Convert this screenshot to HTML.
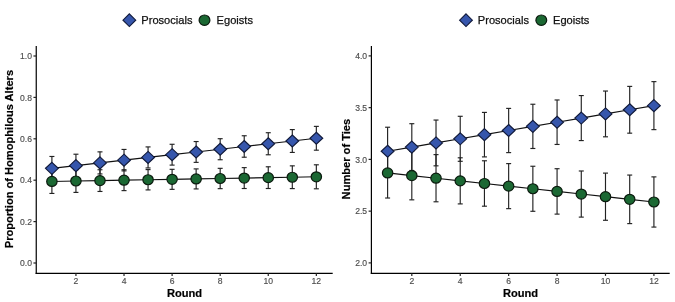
<!DOCTYPE html>
<html><head><meta charset="utf-8"><style>
html,body{margin:0;padding:0;background:#fff;}
body{width:675px;height:302px;overflow:hidden;}
svg{display:block;will-change:transform;}
text{font-family:"Liberation Sans", sans-serif;}
.eb{stroke:#222;stroke-width:1.15;fill:none;}
.ln{stroke:#111;stroke-width:1.15;fill:none;}
.dm{fill:#3656ac;stroke:#111a3a;stroke-width:1.15;}
.ci{fill:#1b6833;stroke:#0b1a0e;stroke-width:1.2;}
.ax{stroke:#000;stroke-width:1.2;}
.tk{stroke:#222;stroke-width:1.2;}
.tl{font-size:8.6px;fill:#4d4d4d;stroke:#4d4d4d;stroke-width:0.15px;}
.tt{font-size:11.1px;font-weight:bold;fill:#000;stroke:#000;stroke-width:0.2px;}
.lg{font-size:11.1px;fill:#111;stroke:#111;stroke-width:0.25px;}
</style></head><body>
<svg width="675" height="302" viewBox="0 0 675 302">
<rect width="675" height="302" fill="#fff"/>
<path class="dm" d="M129.35 13.85L135.70 20.20L129.35 26.55L123.00 20.20Z"/>
<ellipse class="ci" cx="204.50" cy="20.20" rx="5.4" ry="5.2"/>
<text class="lg" x="141.30" y="23.9">Prosocials</text>
<text class="lg" x="216.60" y="23.9">Egoists</text>
<path class="dm" d="M466.00 13.85L472.35 20.20L466.00 26.55L459.65 20.20Z"/>
<ellipse class="ci" cx="541.30" cy="20.20" rx="5.4" ry="5.2"/>
<text class="lg" x="477.80" y="23.9">Prosocials</text>
<text class="lg" x="553.00" y="23.9">Egoists</text>
<line x1="51.90" y1="156.47" x2="51.90" y2="180.27" class="eb"/>
<line x1="49.40" y1="156.47" x2="54.40" y2="156.47" class="eb"/>
<line x1="49.40" y1="180.27" x2="54.40" y2="180.27" class="eb"/>
<line x1="75.94" y1="154.21" x2="75.94" y2="177.06" class="eb"/>
<line x1="73.44" y1="154.21" x2="78.44" y2="154.21" class="eb"/>
<line x1="73.44" y1="177.06" x2="78.44" y2="177.06" class="eb"/>
<line x1="99.98" y1="151.87" x2="99.98" y2="173.93" class="eb"/>
<line x1="97.48" y1="151.87" x2="102.48" y2="151.87" class="eb"/>
<line x1="97.48" y1="173.93" x2="102.48" y2="173.93" class="eb"/>
<line x1="124.02" y1="149.44" x2="124.02" y2="170.89" class="eb"/>
<line x1="121.52" y1="149.44" x2="126.52" y2="149.44" class="eb"/>
<line x1="121.52" y1="170.89" x2="126.52" y2="170.89" class="eb"/>
<line x1="148.06" y1="146.91" x2="148.06" y2="167.95" class="eb"/>
<line x1="145.56" y1="146.91" x2="150.56" y2="146.91" class="eb"/>
<line x1="145.56" y1="167.95" x2="150.56" y2="167.95" class="eb"/>
<line x1="172.10" y1="144.28" x2="172.10" y2="165.11" class="eb"/>
<line x1="169.60" y1="144.28" x2="174.60" y2="144.28" class="eb"/>
<line x1="169.60" y1="165.11" x2="174.60" y2="165.11" class="eb"/>
<line x1="196.14" y1="141.54" x2="196.14" y2="162.37" class="eb"/>
<line x1="193.64" y1="141.54" x2="198.64" y2="141.54" class="eb"/>
<line x1="193.64" y1="162.37" x2="198.64" y2="162.37" class="eb"/>
<line x1="220.18" y1="138.70" x2="220.18" y2="159.74" class="eb"/>
<line x1="217.68" y1="138.70" x2="222.68" y2="138.70" class="eb"/>
<line x1="217.68" y1="159.74" x2="222.68" y2="159.74" class="eb"/>
<line x1="244.22" y1="135.76" x2="244.22" y2="157.21" class="eb"/>
<line x1="241.72" y1="135.76" x2="246.72" y2="135.76" class="eb"/>
<line x1="241.72" y1="157.21" x2="246.72" y2="157.21" class="eb"/>
<line x1="268.26" y1="132.72" x2="268.26" y2="154.78" class="eb"/>
<line x1="265.76" y1="132.72" x2="270.76" y2="132.72" class="eb"/>
<line x1="265.76" y1="154.78" x2="270.76" y2="154.78" class="eb"/>
<line x1="292.30" y1="129.59" x2="292.30" y2="152.44" class="eb"/>
<line x1="289.80" y1="129.59" x2="294.80" y2="129.59" class="eb"/>
<line x1="289.80" y1="152.44" x2="294.80" y2="152.44" class="eb"/>
<line x1="316.34" y1="126.38" x2="316.34" y2="150.18" class="eb"/>
<line x1="313.84" y1="126.38" x2="318.84" y2="126.38" class="eb"/>
<line x1="313.84" y1="150.18" x2="318.84" y2="150.18" class="eb"/>
<line x1="51.90" y1="169.45" x2="51.90" y2="193.45" class="eb"/>
<line x1="49.40" y1="169.45" x2="54.40" y2="169.45" class="eb"/>
<line x1="49.40" y1="193.45" x2="54.40" y2="193.45" class="eb"/>
<line x1="75.94" y1="169.65" x2="75.94" y2="192.40" class="eb"/>
<line x1="73.44" y1="169.65" x2="78.44" y2="169.65" class="eb"/>
<line x1="73.44" y1="192.40" x2="78.44" y2="192.40" class="eb"/>
<line x1="99.98" y1="169.75" x2="99.98" y2="191.46" class="eb"/>
<line x1="97.48" y1="169.75" x2="102.48" y2="169.75" class="eb"/>
<line x1="97.48" y1="191.46" x2="102.48" y2="191.46" class="eb"/>
<line x1="124.02" y1="169.74" x2="124.02" y2="190.62" class="eb"/>
<line x1="121.52" y1="169.74" x2="126.52" y2="169.74" class="eb"/>
<line x1="121.52" y1="190.62" x2="126.52" y2="190.62" class="eb"/>
<line x1="148.06" y1="169.60" x2="148.06" y2="189.92" class="eb"/>
<line x1="145.56" y1="169.60" x2="150.56" y2="169.60" class="eb"/>
<line x1="145.56" y1="189.92" x2="150.56" y2="189.92" class="eb"/>
<line x1="172.10" y1="169.32" x2="172.10" y2="189.35" class="eb"/>
<line x1="169.60" y1="169.32" x2="174.60" y2="169.32" class="eb"/>
<line x1="169.60" y1="189.35" x2="174.60" y2="189.35" class="eb"/>
<line x1="196.14" y1="168.90" x2="196.14" y2="188.93" class="eb"/>
<line x1="193.64" y1="168.90" x2="198.64" y2="168.90" class="eb"/>
<line x1="193.64" y1="188.93" x2="198.64" y2="188.93" class="eb"/>
<line x1="220.18" y1="168.33" x2="220.18" y2="188.65" class="eb"/>
<line x1="217.68" y1="168.33" x2="222.68" y2="168.33" class="eb"/>
<line x1="217.68" y1="188.65" x2="222.68" y2="188.65" class="eb"/>
<line x1="244.22" y1="167.63" x2="244.22" y2="188.51" class="eb"/>
<line x1="241.72" y1="167.63" x2="246.72" y2="167.63" class="eb"/>
<line x1="241.72" y1="188.51" x2="246.72" y2="188.51" class="eb"/>
<line x1="268.26" y1="166.79" x2="268.26" y2="188.50" class="eb"/>
<line x1="265.76" y1="166.79" x2="270.76" y2="166.79" class="eb"/>
<line x1="265.76" y1="188.50" x2="270.76" y2="188.50" class="eb"/>
<line x1="292.30" y1="165.85" x2="292.30" y2="188.60" class="eb"/>
<line x1="289.80" y1="165.85" x2="294.80" y2="165.85" class="eb"/>
<line x1="289.80" y1="188.60" x2="294.80" y2="188.60" class="eb"/>
<line x1="316.34" y1="164.80" x2="316.34" y2="188.80" class="eb"/>
<line x1="313.84" y1="164.80" x2="318.84" y2="164.80" class="eb"/>
<line x1="313.84" y1="188.80" x2="318.84" y2="188.80" class="eb"/>
<polyline class="ln" points="51.90,168.37 75.94,165.64 99.98,162.90 124.02,160.17 148.06,157.43 172.10,154.69 196.14,151.96 220.18,149.22 244.22,146.48 268.26,143.75 292.30,141.01 316.34,138.28"/>
<polyline class="ln" points="51.90,181.45 75.94,181.02 99.98,180.60 124.02,180.18 148.06,179.76 172.10,179.34 196.14,178.91 220.18,178.49 244.22,178.07 268.26,177.65 292.30,177.23 316.34,176.80"/>
<path class="dm" d="M51.90 162.37L58.30 168.37L51.90 174.37L45.50 168.37Z"/>
<path class="dm" d="M75.94 159.64L82.34 165.64L75.94 171.64L69.54 165.64Z"/>
<path class="dm" d="M99.98 156.90L106.38 162.90L99.98 168.90L93.58 162.90Z"/>
<path class="dm" d="M124.02 154.17L130.42 160.17L124.02 166.17L117.62 160.17Z"/>
<path class="dm" d="M148.06 151.43L154.46 157.43L148.06 163.43L141.66 157.43Z"/>
<path class="dm" d="M172.10 148.69L178.50 154.69L172.10 160.69L165.70 154.69Z"/>
<path class="dm" d="M196.14 145.96L202.54 151.96L196.14 157.96L189.74 151.96Z"/>
<path class="dm" d="M220.18 143.22L226.58 149.22L220.18 155.22L213.78 149.22Z"/>
<path class="dm" d="M244.22 140.48L250.62 146.48L244.22 152.48L237.82 146.48Z"/>
<path class="dm" d="M268.26 137.75L274.66 143.75L268.26 149.75L261.86 143.75Z"/>
<path class="dm" d="M292.30 135.01L298.70 141.01L292.30 147.01L285.90 141.01Z"/>
<path class="dm" d="M316.34 132.28L322.74 138.28L316.34 144.28L309.94 138.28Z"/>
<ellipse class="ci" cx="51.90" cy="181.45" rx="5.2" ry="5.0"/>
<ellipse class="ci" cx="75.94" cy="181.02" rx="5.2" ry="5.0"/>
<ellipse class="ci" cx="99.98" cy="180.60" rx="5.2" ry="5.0"/>
<ellipse class="ci" cx="124.02" cy="180.18" rx="5.2" ry="5.0"/>
<ellipse class="ci" cx="148.06" cy="179.76" rx="5.2" ry="5.0"/>
<ellipse class="ci" cx="172.10" cy="179.34" rx="5.2" ry="5.0"/>
<ellipse class="ci" cx="196.14" cy="178.91" rx="5.2" ry="5.0"/>
<ellipse class="ci" cx="220.18" cy="178.49" rx="5.2" ry="5.0"/>
<ellipse class="ci" cx="244.22" cy="178.07" rx="5.2" ry="5.0"/>
<ellipse class="ci" cx="268.26" cy="177.65" rx="5.2" ry="5.0"/>
<ellipse class="ci" cx="292.30" cy="177.23" rx="5.2" ry="5.0"/>
<ellipse class="ci" cx="316.34" cy="176.80" rx="5.2" ry="5.0"/>
<line class="ax" x1="36.25" y1="46.0" x2="36.25" y2="273.90000000000003"/>
<line class="ax" x1="35.65" y1="273.3" x2="332.7" y2="273.3"/>
<line class="tk" x1="33.45" y1="263.00" x2="36.25" y2="263.00"/>
<text class="tl" x="31.95" y="266.20" text-anchor="end">0.0</text>
<line class="tk" x1="33.45" y1="221.60" x2="36.25" y2="221.60"/>
<text class="tl" x="31.95" y="224.80" text-anchor="end">0.2</text>
<line class="tk" x1="33.45" y1="180.20" x2="36.25" y2="180.20"/>
<text class="tl" x="31.95" y="183.40" text-anchor="end">0.4</text>
<line class="tk" x1="33.45" y1="138.80" x2="36.25" y2="138.80"/>
<text class="tl" x="31.95" y="142.00" text-anchor="end">0.6</text>
<line class="tk" x1="33.45" y1="97.40" x2="36.25" y2="97.40"/>
<text class="tl" x="31.95" y="100.60" text-anchor="end">0.8</text>
<line class="tk" x1="33.45" y1="56.00" x2="36.25" y2="56.00"/>
<text class="tl" x="31.95" y="59.20" text-anchor="end">1.0</text>
<line class="tk" x1="75.94" y1="273.3" x2="75.94" y2="275.90000000000003"/>
<text class="tl" x="75.94" y="283.90" text-anchor="middle">2</text>
<line class="tk" x1="124.02" y1="273.3" x2="124.02" y2="275.90000000000003"/>
<text class="tl" x="124.02" y="283.90" text-anchor="middle">4</text>
<line class="tk" x1="172.10" y1="273.3" x2="172.10" y2="275.90000000000003"/>
<text class="tl" x="172.10" y="283.90" text-anchor="middle">6</text>
<line class="tk" x1="220.18" y1="273.3" x2="220.18" y2="275.90000000000003"/>
<text class="tl" x="220.18" y="283.90" text-anchor="middle">8</text>
<line class="tk" x1="268.26" y1="273.3" x2="268.26" y2="275.90000000000003"/>
<text class="tl" x="268.26" y="283.90" text-anchor="middle">10</text>
<line class="tk" x1="316.34" y1="273.3" x2="316.34" y2="275.90000000000003"/>
<text class="tl" x="316.34" y="283.90" text-anchor="middle">12</text>
<text class="tt" x="184.47" y="296.6" text-anchor="middle">Round</text>
<text class="tt" transform="translate(12.9,159.1) rotate(-90)" x="0" y="0" text-anchor="middle">Proportion of Homophilous Alters</text>
<line x1="387.60" y1="127.23" x2="387.60" y2="175.23" class="eb"/>
<line x1="385.10" y1="127.23" x2="390.10" y2="127.23" class="eb"/>
<line x1="385.10" y1="175.23" x2="390.10" y2="175.23" class="eb"/>
<line x1="411.81" y1="123.70" x2="411.81" y2="170.48" class="eb"/>
<line x1="409.31" y1="123.70" x2="414.31" y2="123.70" class="eb"/>
<line x1="409.31" y1="170.48" x2="414.31" y2="170.48" class="eb"/>
<line x1="436.02" y1="120.05" x2="436.02" y2="165.83" class="eb"/>
<line x1="433.52" y1="120.05" x2="438.52" y2="120.05" class="eb"/>
<line x1="433.52" y1="165.83" x2="438.52" y2="165.83" class="eb"/>
<line x1="460.23" y1="116.29" x2="460.23" y2="161.30" class="eb"/>
<line x1="457.73" y1="116.29" x2="462.73" y2="116.29" class="eb"/>
<line x1="457.73" y1="161.30" x2="462.73" y2="161.30" class="eb"/>
<line x1="484.44" y1="112.40" x2="484.44" y2="156.90" class="eb"/>
<line x1="481.94" y1="112.40" x2="486.94" y2="112.40" class="eb"/>
<line x1="481.94" y1="156.90" x2="486.94" y2="156.90" class="eb"/>
<line x1="508.65" y1="108.39" x2="508.65" y2="152.62" class="eb"/>
<line x1="506.15" y1="108.39" x2="511.15" y2="108.39" class="eb"/>
<line x1="506.15" y1="152.62" x2="511.15" y2="152.62" class="eb"/>
<line x1="532.86" y1="104.24" x2="532.86" y2="148.48" class="eb"/>
<line x1="530.36" y1="104.24" x2="535.36" y2="104.24" class="eb"/>
<line x1="530.36" y1="148.48" x2="535.36" y2="148.48" class="eb"/>
<line x1="557.07" y1="99.97" x2="557.07" y2="144.46" class="eb"/>
<line x1="554.57" y1="99.97" x2="559.57" y2="99.97" class="eb"/>
<line x1="554.57" y1="144.46" x2="559.57" y2="144.46" class="eb"/>
<line x1="581.28" y1="95.56" x2="581.28" y2="140.58" class="eb"/>
<line x1="578.78" y1="95.56" x2="583.78" y2="95.56" class="eb"/>
<line x1="578.78" y1="140.58" x2="583.78" y2="140.58" class="eb"/>
<line x1="605.49" y1="91.04" x2="605.49" y2="136.81" class="eb"/>
<line x1="602.99" y1="91.04" x2="607.99" y2="91.04" class="eb"/>
<line x1="602.99" y1="136.81" x2="607.99" y2="136.81" class="eb"/>
<line x1="629.70" y1="86.39" x2="629.70" y2="133.17" class="eb"/>
<line x1="627.20" y1="86.39" x2="632.20" y2="86.39" class="eb"/>
<line x1="627.20" y1="133.17" x2="632.20" y2="133.17" class="eb"/>
<line x1="653.91" y1="81.63" x2="653.91" y2="129.63" class="eb"/>
<line x1="651.41" y1="81.63" x2="656.41" y2="81.63" class="eb"/>
<line x1="651.41" y1="129.63" x2="656.41" y2="129.63" class="eb"/>
<line x1="387.60" y1="147.82" x2="387.60" y2="198.02" class="eb"/>
<line x1="385.10" y1="147.82" x2="390.10" y2="147.82" class="eb"/>
<line x1="385.10" y1="198.02" x2="390.10" y2="198.02" class="eb"/>
<line x1="411.81" y1="151.29" x2="411.81" y2="199.84" class="eb"/>
<line x1="409.31" y1="151.29" x2="414.31" y2="151.29" class="eb"/>
<line x1="409.31" y1="199.84" x2="414.31" y2="199.84" class="eb"/>
<line x1="436.02" y1="154.62" x2="436.02" y2="201.79" class="eb"/>
<line x1="433.52" y1="154.62" x2="438.52" y2="154.62" class="eb"/>
<line x1="433.52" y1="201.79" x2="438.52" y2="201.79" class="eb"/>
<line x1="460.23" y1="157.79" x2="460.23" y2="203.91" class="eb"/>
<line x1="457.73" y1="157.79" x2="462.73" y2="157.79" class="eb"/>
<line x1="457.73" y1="203.91" x2="462.73" y2="203.91" class="eb"/>
<line x1="484.44" y1="160.78" x2="484.44" y2="206.19" class="eb"/>
<line x1="481.94" y1="160.78" x2="486.94" y2="160.78" class="eb"/>
<line x1="481.94" y1="206.19" x2="486.94" y2="206.19" class="eb"/>
<line x1="508.65" y1="163.61" x2="508.65" y2="208.65" class="eb"/>
<line x1="506.15" y1="163.61" x2="511.15" y2="163.61" class="eb"/>
<line x1="506.15" y1="208.65" x2="511.15" y2="208.65" class="eb"/>
<line x1="532.86" y1="166.25" x2="532.86" y2="211.29" class="eb"/>
<line x1="530.36" y1="166.25" x2="535.36" y2="166.25" class="eb"/>
<line x1="530.36" y1="211.29" x2="535.36" y2="211.29" class="eb"/>
<line x1="557.07" y1="168.71" x2="557.07" y2="214.12" class="eb"/>
<line x1="554.57" y1="168.71" x2="559.57" y2="168.71" class="eb"/>
<line x1="554.57" y1="214.12" x2="559.57" y2="214.12" class="eb"/>
<line x1="581.28" y1="170.99" x2="581.28" y2="217.11" class="eb"/>
<line x1="578.78" y1="170.99" x2="583.78" y2="170.99" class="eb"/>
<line x1="578.78" y1="217.11" x2="583.78" y2="217.11" class="eb"/>
<line x1="605.49" y1="173.11" x2="605.49" y2="220.28" class="eb"/>
<line x1="602.99" y1="173.11" x2="607.99" y2="173.11" class="eb"/>
<line x1="602.99" y1="220.28" x2="607.99" y2="220.28" class="eb"/>
<line x1="629.70" y1="175.06" x2="629.70" y2="223.61" class="eb"/>
<line x1="627.20" y1="175.06" x2="632.20" y2="175.06" class="eb"/>
<line x1="627.20" y1="223.61" x2="632.20" y2="223.61" class="eb"/>
<line x1="653.91" y1="176.88" x2="653.91" y2="227.08" class="eb"/>
<line x1="651.41" y1="176.88" x2="656.41" y2="176.88" class="eb"/>
<line x1="651.41" y1="227.08" x2="656.41" y2="227.08" class="eb"/>
<polyline class="ln" points="387.60,151.23 411.81,147.09 436.02,142.94 460.23,138.80 484.44,134.65 508.65,130.51 532.86,126.36 557.07,122.22 581.28,118.07 605.49,113.92 629.70,109.78 653.91,105.63"/>
<polyline class="ln" points="387.60,172.92 411.81,175.56 436.02,178.21 460.23,180.85 484.44,183.49 508.65,186.13 532.86,188.77 557.07,191.41 581.28,194.05 605.49,196.69 629.70,199.34 653.91,201.98"/>
<path class="dm" d="M387.60 145.23L394.00 151.23L387.60 157.23L381.20 151.23Z"/>
<path class="dm" d="M411.81 141.09L418.21 147.09L411.81 153.09L405.41 147.09Z"/>
<path class="dm" d="M436.02 136.94L442.42 142.94L436.02 148.94L429.62 142.94Z"/>
<path class="dm" d="M460.23 132.80L466.63 138.80L460.23 144.80L453.83 138.80Z"/>
<path class="dm" d="M484.44 128.65L490.84 134.65L484.44 140.65L478.04 134.65Z"/>
<path class="dm" d="M508.65 124.51L515.05 130.51L508.65 136.51L502.25 130.51Z"/>
<path class="dm" d="M532.86 120.36L539.26 126.36L532.86 132.36L526.46 126.36Z"/>
<path class="dm" d="M557.07 116.22L563.47 122.22L557.07 128.22L550.67 122.22Z"/>
<path class="dm" d="M581.28 112.07L587.68 118.07L581.28 124.07L574.88 118.07Z"/>
<path class="dm" d="M605.49 107.92L611.89 113.92L605.49 119.92L599.09 113.92Z"/>
<path class="dm" d="M629.70 103.78L636.10 109.78L629.70 115.78L623.30 109.78Z"/>
<path class="dm" d="M653.91 99.63L660.31 105.63L653.91 111.63L647.51 105.63Z"/>
<ellipse class="ci" cx="387.60" cy="172.92" rx="5.2" ry="5.0"/>
<ellipse class="ci" cx="411.81" cy="175.56" rx="5.2" ry="5.0"/>
<ellipse class="ci" cx="436.02" cy="178.21" rx="5.2" ry="5.0"/>
<ellipse class="ci" cx="460.23" cy="180.85" rx="5.2" ry="5.0"/>
<ellipse class="ci" cx="484.44" cy="183.49" rx="5.2" ry="5.0"/>
<ellipse class="ci" cx="508.65" cy="186.13" rx="5.2" ry="5.0"/>
<ellipse class="ci" cx="532.86" cy="188.77" rx="5.2" ry="5.0"/>
<ellipse class="ci" cx="557.07" cy="191.41" rx="5.2" ry="5.0"/>
<ellipse class="ci" cx="581.28" cy="194.05" rx="5.2" ry="5.0"/>
<ellipse class="ci" cx="605.49" cy="196.69" rx="5.2" ry="5.0"/>
<ellipse class="ci" cx="629.70" cy="199.34" rx="5.2" ry="5.0"/>
<ellipse class="ci" cx="653.91" cy="201.98" rx="5.2" ry="5.0"/>
<line class="ax" x1="371.4" y1="46.0" x2="371.4" y2="273.90000000000003"/>
<line class="ax" x1="370.79999999999995" y1="273.3" x2="669.7" y2="273.3"/>
<line class="tk" x1="368.59999999999997" y1="262.90" x2="371.4" y2="262.90"/>
<text class="tl" x="367.10" y="266.10" text-anchor="end">2.0</text>
<line class="tk" x1="368.59999999999997" y1="211.15" x2="371.4" y2="211.15"/>
<text class="tl" x="367.10" y="214.35" text-anchor="end">2.5</text>
<line class="tk" x1="368.59999999999997" y1="159.40" x2="371.4" y2="159.40"/>
<text class="tl" x="367.10" y="162.60" text-anchor="end">3.0</text>
<line class="tk" x1="368.59999999999997" y1="107.65" x2="371.4" y2="107.65"/>
<text class="tl" x="367.10" y="110.85" text-anchor="end">3.5</text>
<line class="tk" x1="368.59999999999997" y1="55.90" x2="371.4" y2="55.90"/>
<text class="tl" x="367.10" y="59.10" text-anchor="end">4.0</text>
<line class="tk" x1="411.81" y1="273.3" x2="411.81" y2="275.90000000000003"/>
<text class="tl" x="411.81" y="283.90" text-anchor="middle">2</text>
<line class="tk" x1="460.23" y1="273.3" x2="460.23" y2="275.90000000000003"/>
<text class="tl" x="460.23" y="283.90" text-anchor="middle">4</text>
<line class="tk" x1="508.65" y1="273.3" x2="508.65" y2="275.90000000000003"/>
<text class="tl" x="508.65" y="283.90" text-anchor="middle">6</text>
<line class="tk" x1="557.07" y1="273.3" x2="557.07" y2="275.90000000000003"/>
<text class="tl" x="557.07" y="283.90" text-anchor="middle">8</text>
<line class="tk" x1="605.49" y1="273.3" x2="605.49" y2="275.90000000000003"/>
<text class="tl" x="605.49" y="283.90" text-anchor="middle">10</text>
<line class="tk" x1="653.91" y1="273.3" x2="653.91" y2="275.90000000000003"/>
<text class="tl" x="653.91" y="283.90" text-anchor="middle">12</text>
<text class="tt" x="520.55" y="296.6" text-anchor="middle">Round</text>
<text class="tt" transform="translate(349.9,159.1) rotate(-90)" x="0" y="0" text-anchor="middle">Number of Ties</text>
</svg>
</body></html>
